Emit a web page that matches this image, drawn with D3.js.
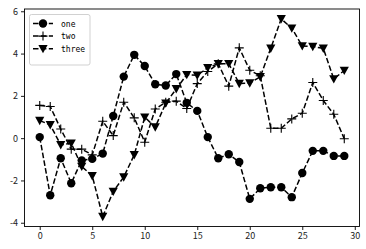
<!DOCTYPE html>
<html>
<head>
<meta charset="utf-8">
<script src="https://cdn.jsdelivr.net/npm/d3@7"></script>
<style>
  body { margin: 0; background: #fff; }
  text { font-family: "Noto Sans CJK SC", "DejaVu Sans", sans-serif; }
</style>
</head>
<body>
<div id="chartDiv"></div>
<script>
// values, x = 0..29
var one = [0.05, -2.70, -0.95, -2.13, -1.05, -0.98, -0.73, 1.05, 2.91, 3.94, 3.41, 2.55, 2.49, 3.03, 1.67, 1.29,
  0.05, -0.95, -0.76, -1.13, -2.87, -2.37, -2.32, -2.32, -2.79, -1.65, -0.60, -0.60, -0.84, -0.84];
var two = [1.55, 1.50, 0.43, -0.52, -0.52, -0.79, 0.80, 0.12, 1.70, 0.96, -0.19, 1.38, 1.70, 1.75, 1.40, 2.58,
  3.15, 3.52, 2.46, 4.27, 3.21, 2.95, 0.47, 0.47, 0.91, 1.18, 2.63, 1.78, 1.13, -0.03];
var three = [0.83, 0.63, -0.32, -0.24, -1.34, -1.78, -3.71, -2.52, -1.84, -0.79, 0.99, 0.52, 1.65, 2.33, 3.00, 2.97,
  3.33, 3.52, 3.52, 2.58, 2.60, 2.90, 4.25, 5.64, 5.20, 4.36, 4.33, 4.25, 2.80, 3.20];
var seriesNames = ['one', 'two', 'three'];
var xTicks = [0, 5, 10, 15, 20, 25, 30];
var yTicks = [-4, -2, 0, 2, 4, 6];

var w = 366, h = 249,
  plotL = 24.5, plotR = 359.5, plotT = 9, plotB = 226.5;

var svg = d3.select('#chartDiv').append('svg')
  .attr('width', w)
  .attr('height', h);

var all = one.concat(two, three);
var yMin = d3.min(all), yMax = d3.max(all), yPad = (yMax - yMin) * 0.05;

var xScale = d3.scaleLinear().domain([-1.45, 30.45]).range([plotL, plotR]);
var yScale = d3.scaleLinear().domain([yMin - yPad, yMax + yPad]).range([plotB, plotT]);

// frame
svg.append('rect')
  .attr('x', plotL).attr('y', plotT)
  .attr('width', plotR - plotL).attr('height', plotB - plotT)
  .attr('fill', 'none').attr('stroke', '#000').attr('stroke-width', 0.9);

var xAxis = d3.axisBottom(xScale).tickValues(xTicks).tickSize(3.5).tickPadding(3).tickFormat(d3.format('d'));
var yAxis = d3.axisLeft(yScale).tickValues(yTicks).tickSize(3.5).tickPadding(3)
  .tickFormat(function(d) { return String(d); });

svg.append('g').attr('transform', 'translate(0,' + plotB + ')').call(xAxis)
  .call(function(g) { g.select('.domain').remove(); });
svg.append('g').attr('transform', 'translate(' + plotL + ',0)').call(yAxis)
  .call(function(g) { g.select('.domain').remove(); });

svg.selectAll('.tick line').attr('stroke', '#000').attr('stroke-width', 0.9);
svg.selectAll('.tick text').attr('fill', '#222').style('font-size', '9px');

// markers
function drawMarker(g, kind, x, y) {
  if (kind === 'one') {
    g.append('circle').attr('cx', x).attr('cy', y).attr('r', 4.2).attr('fill', '#000');
  } else if (kind === 'two') {
    g.append('path')
      .attr('d', 'M' + (x - 4.5) + ',' + y + 'H' + (x + 4.5) + 'M' + x + ',' + (y - 4.5) + 'V' + (y + 4.5))
      .attr('stroke', '#000').attr('stroke-width', 1.1);
  } else {
    g.append('path')
      .attr('d', 'M' + (x - 4.6) + ',' + (y - 3.8) + 'L' + (x + 4.6) + ',' + (y - 3.8) + 'L' + x + ',' + (y + 4.6) + 'Z')
      .attr('fill', '#000');
  }
}

var line = d3.line()
  .x(function(d, i) { return xScale(i); })
  .y(function(d) { return yScale(d); });

var data = {one: one, two: two, three: three};
seriesNames.forEach(function(name) {
  var g = svg.append('g');
  g.append('path')
    .datum(data[name])
    .attr('d', line)
    .attr('fill', 'none')
    .attr('stroke', '#000')
    .attr('stroke-width', 1.5)
    .attr('stroke-dasharray', '5.5,2.4');
  data[name].forEach(function(d, i) {
    drawMarker(g, name, xScale(i), yScale(d));
  });
});

// legend
var lg = svg.append('g');
lg.append('rect')
  .attr('x', 29.5).attr('y', 14.5).attr('width', 60.5).attr('height', 50.5)
  .attr('rx', 2).attr('fill', '#fff').attr('fill-opacity', 0.8)
  .attr('stroke', '#ccc').attr('stroke-width', 0.9);
seriesNames.forEach(function(name, i) {
  var y = 23.5 + i * 12.6;
  lg.append('path')
    .attr('d', 'M33,' + y + 'H53')
    .attr('stroke', '#000').attr('stroke-width', 1.5).attr('stroke-dasharray', '5.5,2.4');
  drawMarker(lg, name, 43, y);
  lg.append('text')
    .attr('x', 61).attr('y', y + 3)
    .style('font-family', '"DejaVu Sans Mono", monospace')
    .style('font-size', '8px')
    .attr('fill', '#000')
    .text(name);
});
</script>
</body>
</html>
